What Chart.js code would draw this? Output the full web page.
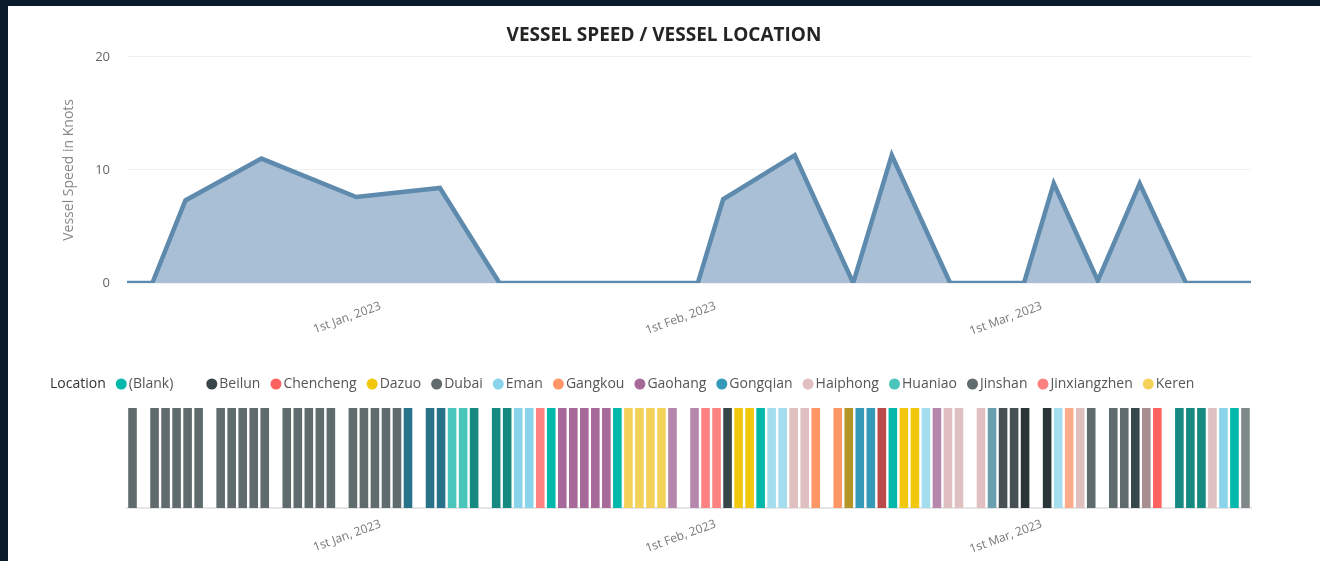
<!DOCTYPE html>
<html>
<head>
<meta charset="utf-8">
<title>Vessel Speed / Vessel Location</title>
<script src="https://cdn.jsdelivr.net/npm/chart.js@4.4.1/dist/chart.umd.min.js"></script>
<style>
  html, body { margin: 0; height: 100%; }
  body { background: #0b1a2b; overflow: hidden; }
  #panel { position: absolute; left: 8px; top: 6px; right: 0; bottom: 0; background: #fff; }
  #speedBox { position: absolute; left: 0; top: 0; width: 1312px; height: 340px; }
  #locationBox { position: absolute; left: 0; top: 340px; width: 1312px; height: 215px; }
</style>
</head>
<body>
<div id="panel">
  <div id="speedBox"><canvas id="speedChart"></canvas></div>
  <div id="locationBox"><canvas id="locationChart"></canvas></div>
</div>
<script>
// x positions are in "day slots" along the shared time axis
const dayTicks = [22.5, 52.9, 82.5];
const dayTickLabels = ['1st Jan, 2023', '1st Feb, 2023', '1st Mar, 2023'];

// vessel speed (knots)
const speedDays = [-0.5, 1.8, 4.8, 11.7, 20.3, 27.9, 33.3, 51.3, 53.6, 60.1, 65.4, 68.9, 74.2, 80.9, 83.6, 87.6, 91.4, 95.6, 101.5];
const speedKnots = [0, 0, 7.3, 11.0, 7.6, 8.4, 0, 0, 7.4, 11.3, 0, 11.3, 0, 0, 8.8, 0.2, 8.8, 0, 0];

// locations shown in the legend (legend is cut off after Keren)
const locationNames = ['(Blank)', 'Beilun', 'Chencheng', 'Dazuo', 'Dubai', 'Eman', 'Gangkou', 'Gaohang',
  'Gongqian', 'Haiphong', 'Huaniao', 'Jinshan', 'Jinxiangzhen', 'Keren'];
const locationColors = ['#01B8AA', '#374649', '#FD625E', '#F2C80F', '#5F6B6D', '#8AD4EB', '#FE9666', '#A66999',
  '#3599B8', '#DFBFBF', '#4AC5BB', '#5F6B6D', '#FB8281', '#F4D25A',
  '#7F898A', '#A4DDEE', '#FDAB89', '#B687AC', '#28738A', '#A78F8F', '#168980', '#293537', '#BB4A4A', '#B59525',
  '#475052', '#6A9FB0'];

// location index for each day slot, null = no record
const slotLocation = [
  4, null, 4, 4, 4, 4, 4, null, 4, 4, 4, 4, 4, null, 4, 4, 4, 4, 4, null,
  4, 4, 4, 4, 4, 18, null, 18, 18, 10, 10, 20, null, 20, 20, 5, 5, 12, 0, 7,
  7, 7, 7, 7, 0, 13, 13, 13, 13, 17, null, 17, 12, 12, 1, 3, 3, 0, 15, 15,
  9, 9, 6, null, 6, 23, 8, 8, 22, 0, 3, 3, 15, 17, 9, 9, null, 9, 25, 24,
  24, 21, null, 21, 15, 16, 9, 4, null, 11, 11, 1, 19, 2, null, 20, 20, 20, 9, 5,
  0, 14
];

const font = 'Open Sans';

function timeAxis(labelPadding) {
  return {
    type: 'linear',
    min: -0.5,
    max: 101.5,
    offset: false,
    grid: { display: false, offset: false },
    border: { display: false },
    afterBuildTicks: scale => { scale.ticks = dayTicks.map(v => ({ value: v })); },
    ticks: {
      autoSkip: false,
      minRotation: 20,
      maxRotation: 20,
      padding: labelPadding,
      color: '#777',
      font: { family: font, size: 12 },
      callback: (v, i) => dayTickLabels[i]
    }
  };
}

// empty axis on the right, keeps the plot narrower than the title / legend row
const rightSpacer = {
  position: 'right',
  afterFit: scale => { scale.width = 69; },
  grid: { display: false },
  border: { display: false },
  ticks: { display: false }
};

const speedX = timeAxis(8);
speedX.afterFit = scale => { scale.height = 63; };

new Chart(document.getElementById('speedChart'), {
  type: 'line',
  data: {
    datasets: [{
      label: 'Vessel Speed in Knots',
      data: speedDays.map((d, i) => ({ x: d, y: speedKnots[i] })),
      borderColor: '#5E8AAE',
      backgroundColor: '#A9BFD5',
      borderWidth: 4.5,
      fill: 'origin',
      tension: 0,
      pointRadius: 0
    }]
  },
  options: {
    responsive: true,
    maintainAspectRatio: false,
    animation: false,
    layout: { padding: 0 },
    plugins: {
      legend: { display: false },
      tooltip: { enabled: false },
      title: {
        display: true,
        text: 'VESSEL SPEED / VESSEL LOCATION',
        color: '#252423',
        font: { family: font, size: 19, weight: 'bold' },
        padding: { top: 18, bottom: 10 }
      }
    },
    scales: {
      x: speedX,
      y: {
        min: 0,
        max: 20,
        afterFit: scale => { scale.width = 119; },
        grid: { color: '#f0f0f0', drawTicks: false },
        border: { display: false },
        ticks: { stepSize: 10, padding: 17, color: '#666', font: { family: font, size: 13 } },
        title: {
          display: true,
          text: 'Vessel Speed in Knots',
          color: '#888',
          font: { family: font, size: 14 },
          padding: { top: 53 }
        }
      },
      yRight: rightSpacer
    }
  }
});

const legendGap = {
  id: 'legendGap',
  beforeInit(chart) {
    const fit = chart.legend.fit;
    chart.legend.fit = function () { fit.call(this); this.height += 7; };
  }
};

const locationX = timeAxis(1);
locationX.border = { display: true, color: '#e6e6e6', width: 2 };
locationX.afterFit = scale => { scale.height = 53; };

const barSlots = [];
slotLocation.forEach((loc, i) => { if (loc !== null) barSlots.push(i); });

const hiddenItem = (text, color) => ({
  text, fillStyle: 'rgba(0,0,0,0)', strokeStyle: 'rgba(0,0,0,0)',
  lineWidth: 0, fontColor: color, pointStyle: 'circle', hidden: false
});

new Chart(document.getElementById('locationChart'), {
  type: 'bar',
  data: {
    datasets: [{
      label: 'Location',
      data: barSlots.map(i => ({ x: i, y: 1 })),
      backgroundColor: barSlots.map(i => locationColors[slotLocation[i]]),
      barPercentage: 0.78,
      categoryPercentage: 1
    }]
  },
  plugins: [legendGap],
  options: {
    responsive: true,
    maintainAspectRatio: false,
    animation: false,
    layout: { padding: { left: 19, right: 0, top: 16, bottom: 0 } },
    plugins: {
      tooltip: { enabled: false },
      legend: {
        align: 'start',
        onClick: null,
        labels: {
          usePointStyle: true,
          boxWidth: 1,
          boxHeight: 7.8,
          padding: 15,
          font: { family: font, size: 14 },
          generateLabels: () => {
            const items = locationNames.map((name, i) => ({
              text: name, fillStyle: locationColors[i], strokeStyle: locationColors[i],
              lineWidth: 0, fontColor: '#555', pointStyle: 'circle', hidden: false
            }));
            // "Location" caption first, and the wide gap Power BI leaves after (Blank)
            items.splice(1, 0, hiddenItem('', '#555'));
            return [hiddenItem('Location', '#333')].concat(items);
          }
        }
      }
    },
    scales: {
      x: locationX,
      y: {
        min: 0,
        max: 1,
        afterFit: scale => { scale.width = 100; },
        grid: { display: false },
        border: { display: false },
        ticks: { display: false }
      },
      yRight: rightSpacer
    }
  }
});
</script>
</body>
</html>
